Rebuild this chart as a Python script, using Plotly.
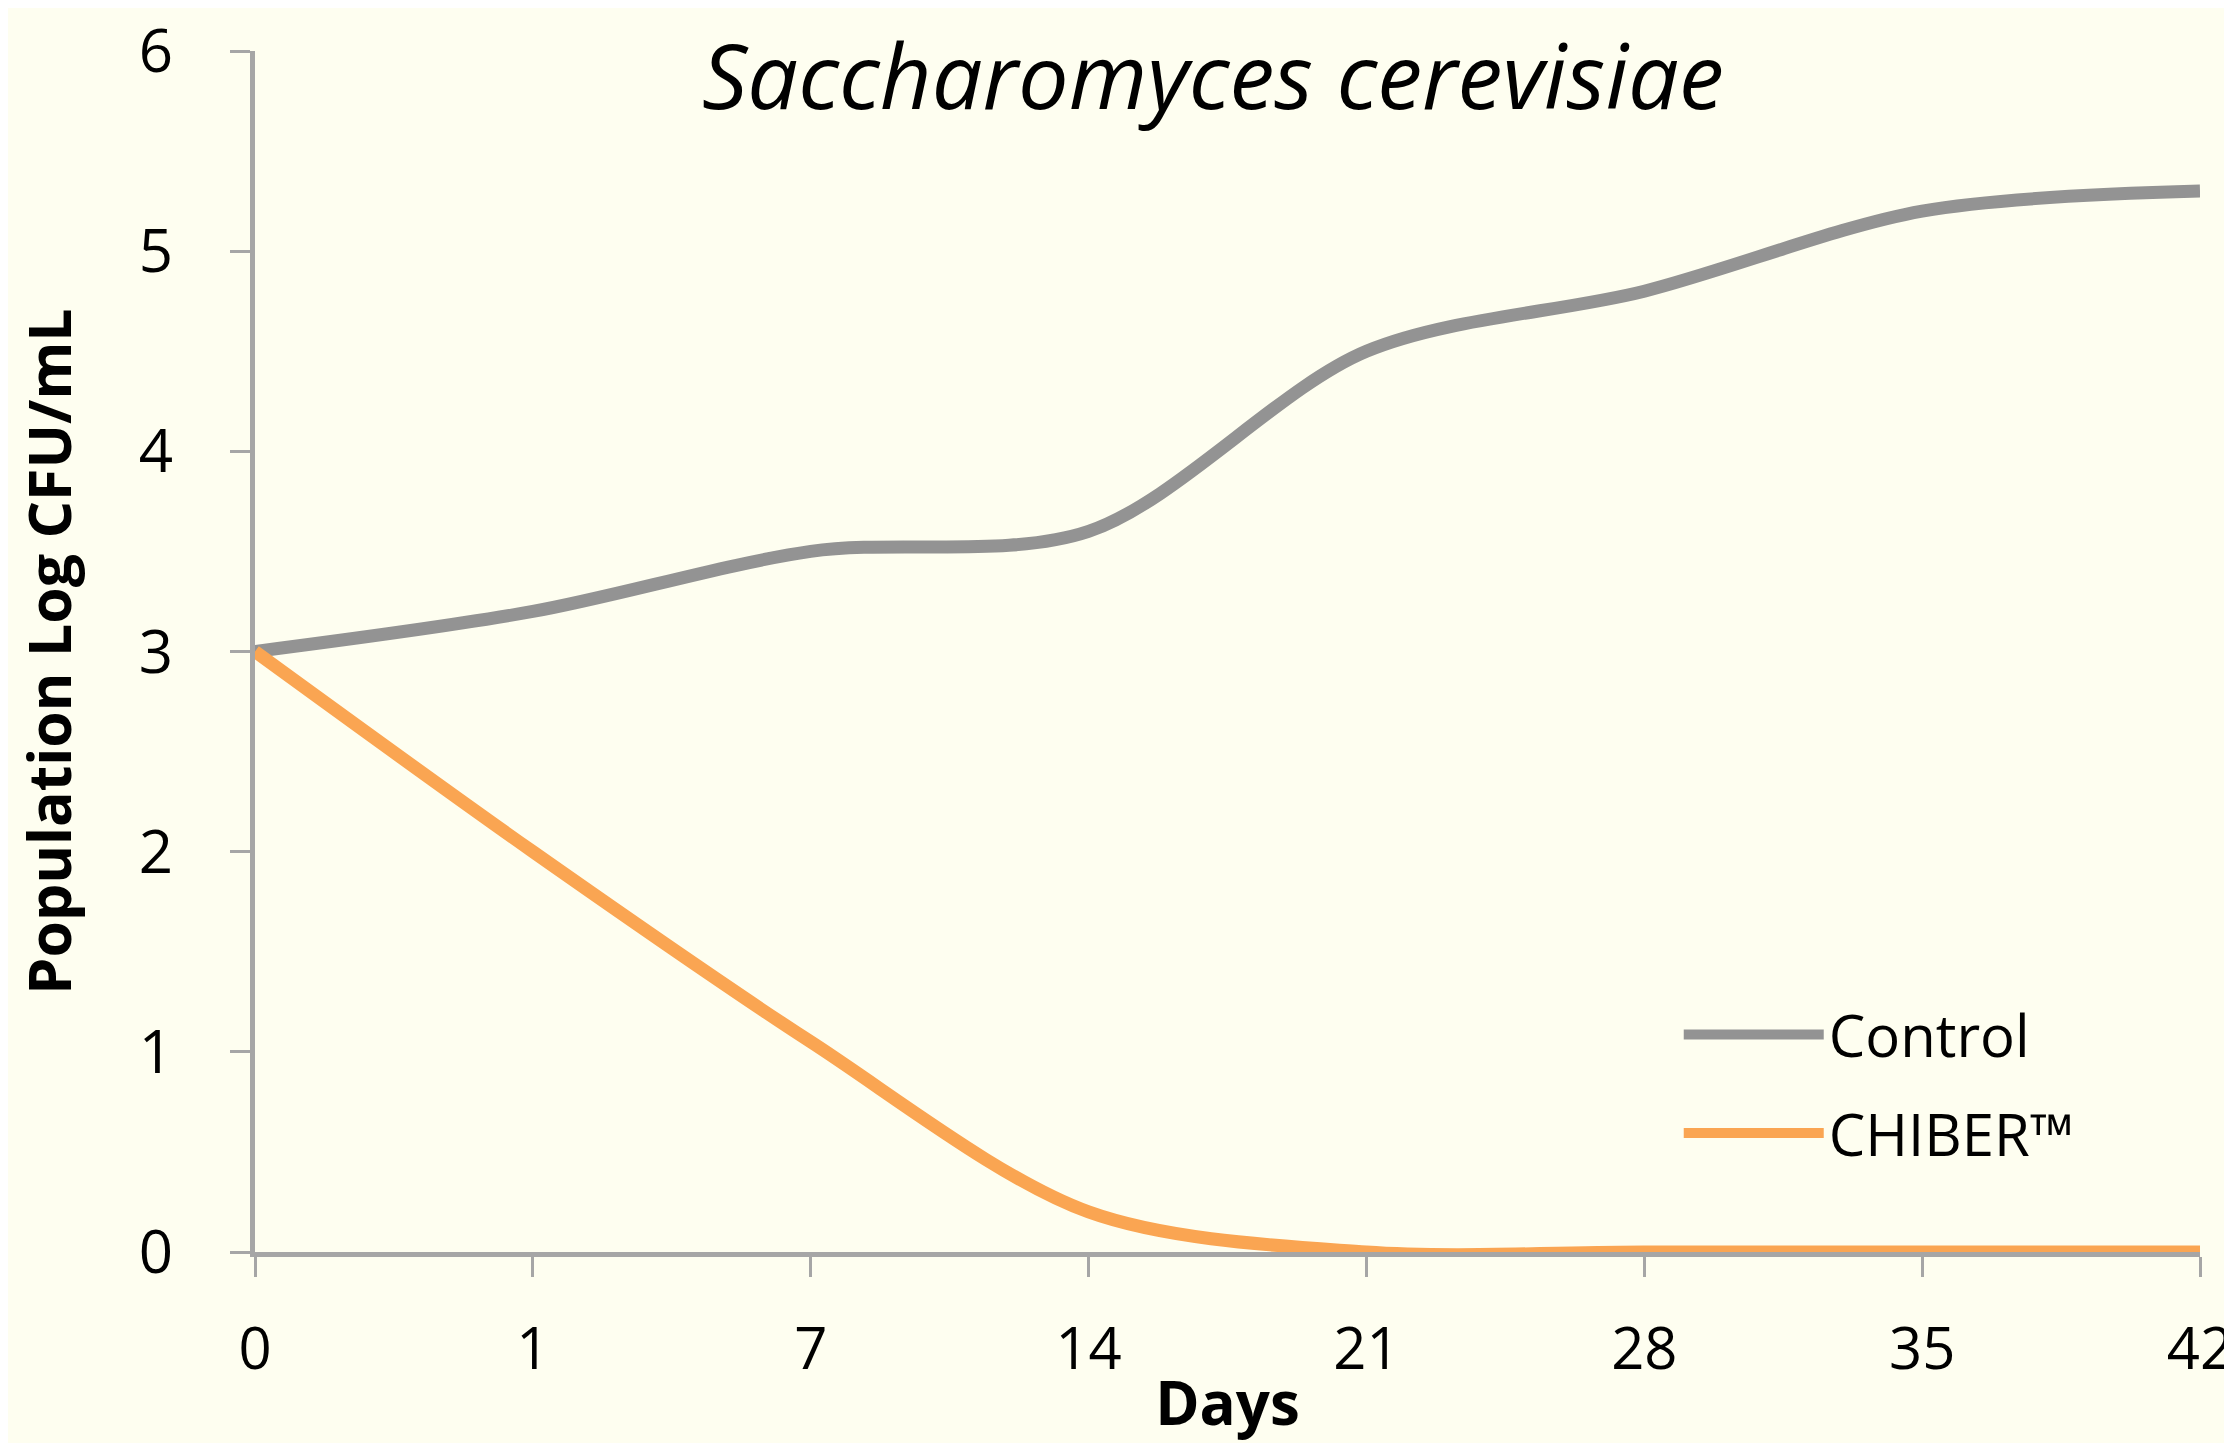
import plotly.graph_objects as go

days = ["0", "1", "7", "14", "21", "28", "35", "42"]
control = [3.0, 3.2, 3.5, 3.6, 4.5, 4.8, 5.2, 5.3]
chiber = [3.0, 2.0, 1.05, 0.2, 0.0, 0.0, 0.0, 0.0]
series_names = ["Control", "CHIBER™"]
title_text = "Saccharomyces cerevisiae"
y_ticks = [0, 1, 2, 3, 4, 5, 6]

BG = "#FEFEF0"
AXIS = "#A6A6A6"
FONT = "Open Sans"

xi = list(range(len(days)))

fig = go.Figure()
fig.add_trace(go.Scatter(x=xi, y=control, name=series_names[0], mode="lines", legendgroup="a",
                         line=dict(color="#939393", width=13, shape="spline", smoothing=0.9)))
fig.add_trace(go.Scatter(x=xi, y=chiber, name=series_names[1], mode="lines", legendgroup="b",
                         line=dict(color="#FAA552", width=13, shape="spline", smoothing=0.9)))

fig.update_layout(
    width=2232, height=1443,
    paper_bgcolor=BG, plot_bgcolor=BG,
    margin=dict(l=247, r=40, t=43, b=199),
    font=dict(family=FONT, color="#000000", size=60),
    showlegend=True,
    legend=dict(x=0.732, y=0.140, xanchor="left", yanchor="middle",
                bgcolor="rgba(0,0,0,0)", font=dict(size=58, family=FONT),
                itemwidth=140, tracegroupgap=20),
    annotations=[dict(text=title_text, xref="paper", yref="paper", x=0.4926, y=1.033,
                      xanchor="center", yanchor="top", showarrow=False,
                      font=dict(family=FONT, size=90, style="italic", color="#000"))],
)
fig.update_xaxes(
    range=[0, len(days) - 1], tickmode="array", tickvals=xi, ticktext=days,
    showline=True, linecolor=AXIS, linewidth=5, ticks="outside", ticklen=20,
    tickwidth=3, tickcolor=AXIS, showgrid=False, zeroline=False, automargin=False,
    tickfont=dict(size=58, family=FONT), ticklabelstandoff=22,
    title=dict(text="<b>Days</b>", font=dict(size=60, family=FONT), standoff=0),
)
fig.update_yaxes(
    range=[0, 6], tickvals=y_ticks,
    showline=True, linecolor=AXIS, linewidth=5, ticks="outside", ticklen=20,
    tickwidth=3, tickcolor=AXIS, showgrid=False, zeroline=False, automargin=False,
    tickfont=dict(size=60, family=FONT), ticklabelstandoff=45,
    title=dict(text="<b>Population Log CFU/mL</b>", font=dict(size=59, family=FONT), standoff=64),
)

fig.write_html("out.html")
